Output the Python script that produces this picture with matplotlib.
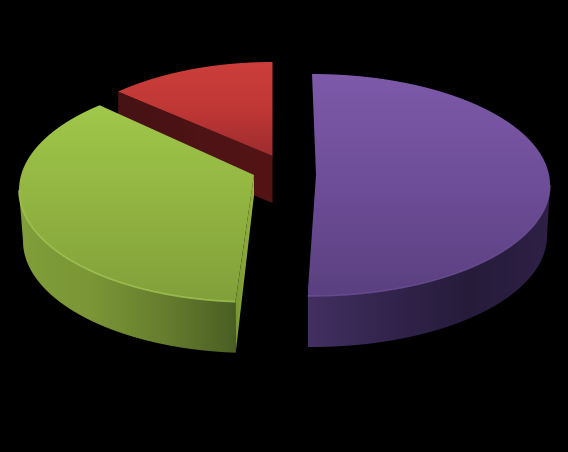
import numpy as np
import matplotlib
matplotlib.use("Agg")
import matplotlib.pyplot as plt
from matplotlib.patches import Polygon
from matplotlib.colors import LinearSegmentedColormap

# slice shares (percent), clockwise from 12 o'clock
values_purple = 50.3
values_green = 37.8
values_red = 11.9

W, H = 568, 452
fig = plt.figure(figsize=((W + 0.01) / 100, (H + 0.01) / 100), dpi=100, facecolor="black")
ax = fig.add_axes([0, 0, 1, 1], facecolor="black")
ax.axis("off")


def shade(points, colors, horizontal=False):
    poly = Polygon(points, closed=True, fc="none", ec="none", transform=ax.transData)
    ax.add_patch(poly)
    pts = np.asarray(points)
    x0, x1, y0, y1 = pts[:, 0].min(), pts[:, 0].max(), pts[:, 1].min(), pts[:, 1].max()
    ramp = np.linspace(0, 1, 256)
    ramp = ramp[None, :] if horizontal else ramp[:, None]
    cmap = LinearSegmentedColormap.from_list("c", [np.array(c) / 255 for c in colors])
    im = ax.imshow(ramp, cmap=cmap, extent=(x0, x1, y1, y0), aspect="auto",
                   origin="upper", interpolation="bilinear", vmin=0, vmax=1)
    im.set_clip_path(poly)


def arc(c, a0, a1, n=160):
    t = np.radians(np.linspace(a0, a1, n))
    return np.column_stack([c[0] + c[2] * np.cos(t), c[1] - c[3] * np.sin(t)])


total = values_purple + values_green + values_red
deg = [v / total * 360 for v in (values_purple, values_green, values_red)]
a_p0 = 90
a_p1 = a_p0 - deg[0]
a_g0 = a_p1 - 3            # exploded slices show a small angular offset
a_g1 = a_g0 - deg[1] + 1
a_r0 = a_g1 + 2
a_r1 = a_r0 - deg[2]

# ---- red
top = (272.5, 173, 227, 111)
apex = np.array([272.5, 156])
A = arc(top, a_r0, a_r1)
wall_depth = 47
corner = A[0]
shade(np.array([corner, apex, apex + [0, wall_depth], corner + [0, wall_depth]]),
      [(70, 18, 20), (84, 20, 22)], horizontal=True)
shade(np.vstack([apex, A]), [(204, 62, 58), (192, 56, 54), (158, 44, 46)])

# ---- green
top = (252, 190, 233, 112)
bot = (252, 241, 229, 112)
apex = np.array([254, 175])
A = arc(top, a_g0, a_g1)
B = arc(bot, a_g0, a_g1)
left = int(np.argmin(A[:, 0]))   # the wall ends where the rim turns back
shade(np.vstack([A[:left + 1], B[:left + 1][::-1]]),
      [(128, 158, 58), (122, 150, 54), (102, 126, 46), (74, 94, 36)], horizontal=True)
shade(np.array([apex, A[0], B[0], apex + [0, 20]]), [(120, 150, 50), (150, 180, 62)], horizontal=True)
shade(np.vstack([apex, A[::-1]]), [(160, 200, 74), (146, 180, 66), (130, 160, 58)])
ax.plot(*A[:left + 1].T, color=np.array((170, 206, 88)) / 255, lw=1.2, solid_capstyle="butt", alpha=.75)

# ---- purple
top = (312, 185, 238, 111)
bot = (312, 236, 235, 111)
apex = np.array([316, 175])
A = arc(top, a_p0, a_p1)
B = arc(bot, a_p0, a_p1)
right = int(np.argmax(A[:, 0]))
shade(np.vstack([A[right:], B[right:][::-1]]), [(66, 48, 98), (50, 36, 76), (38, 28, 58), (46, 32, 70)],
      horizontal=True)
shade(np.vstack([apex, A]), [(126, 90, 170), (110, 78, 152), (90, 64, 128)])
ax.plot(*A[right:].T, color=np.array((118, 86, 160)) / 255, lw=1.0, solid_capstyle="butt", alpha=.7)

ax.set_xlim(0, W)
ax.set_ylim(H, 0)
fig.savefig("out.png", dpi=100, facecolor="black")
